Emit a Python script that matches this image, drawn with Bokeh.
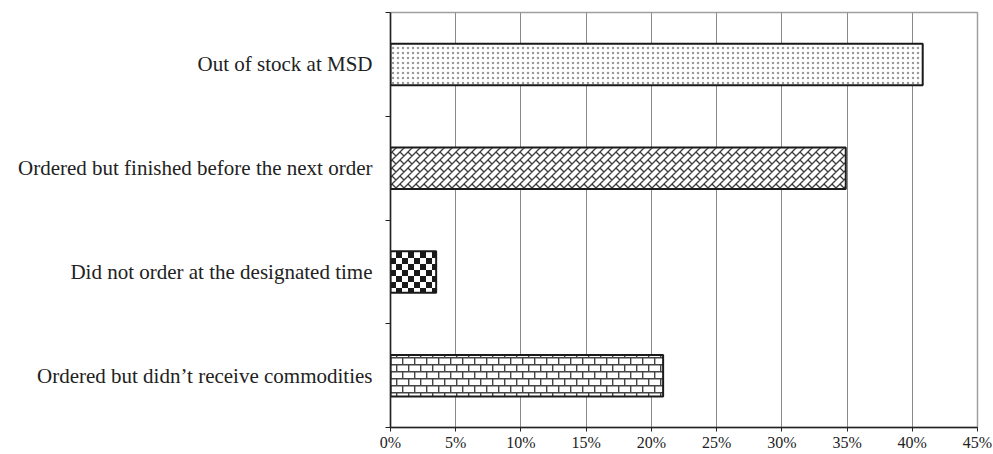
import base64
from bokeh.plotting import figure
from bokeh.models import ColumnDataSource, FixedTicker, ImageURLTexture, Range1d
from bokeh.embed import file_html
from bokeh.resources import INLINE

# ---- data ----
categories = [
    "Ordered but didn’t receive commodities",
    "Did not order at the designated time",
    "Ordered but finished before the next order",
    "Out of stock at MSD",
]
values = [20.9, 3.5, 34.9, 40.8]
patterns = ["brick", "checker", "weave", "."]
x_ticks = [0, 5, 10, 15, 20, 25, 30, 35, 40, 45]
x_tick_labels = ["0%", "5%", "10%", "15%", "20%", "25%", "30%", "35%", "40%", "45%"]


def svg_url(s):
    return "data:image/svg+xml;base64," + base64.b64encode(s.encode()).decode()


checker_svg = (
    "<svg xmlns='http://www.w3.org/2000/svg' width='12' height='12'>"
    "<rect width='12' height='12' fill='#ffffff'/>"
    "<rect width='6' height='6' fill='#1a1a1a'/>"
    "<rect x='6' y='6' width='6' height='6' fill='#1a1a1a'/>"
    "</svg>"
)
brick_svg = (
    "<svg xmlns='http://www.w3.org/2000/svg' width='12' height='14'>"
    "<rect width='12' height='14' fill='#ffffff'/>"
    "<path d='M0 0.7H12 M0 7.7H12 M0.7 0V7.7 M6.7 7.7V14' stroke='#444444' stroke-width='1.4' fill='none'/>"
    "</svg>"
)
weave_svg = (
    "<svg xmlns='http://www.w3.org/2000/svg' width='8' height='8'>"
    "<rect width='8' height='8' fill='#ffffff'/>"
    "<path d='M9 -1L-1 9 M-1 1L1 -1 M7 9L9 7 M0 0L4 4' stroke='#3a3a3a' stroke-width='1.3' fill='none'/>"
    "</svg>"
)

centers = [i + 0.5 for i in range(len(categories))]
bounds = list(range(len(categories) + 1))

src = ColumnDataSource(dict(
    y=centers,
    value=values,
    hatch=patterns,
))

p = figure(
    width=993, height=454,
    x_range=Range1d(0, 45), y_range=Range1d(0, len(categories)),
    output_backend="svg", toolbar_location=None,
    min_border_left=390, min_border_right=16, min_border_top=12, min_border_bottom=27,
)

p.hbar(
    y="y", right="value", left=0, height=0.4, source=src,
    fill_color="white", line_color="#1a1a1a", line_width=2,
    hatch_pattern="hatch", hatch_color="#9a9a9a", hatch_scale=5, hatch_weight=1.6,
    hatch_extra={
        "checker": ImageURLTexture(url=svg_url(checker_svg)),
        "brick": ImageURLTexture(url=svg_url(brick_svg)),
        "weave": ImageURLTexture(url=svg_url(weave_svg)),
    },
)

# x axis
p.xaxis.ticker = FixedTicker(ticks=x_ticks)
p.xaxis.major_label_overrides = {t: l for t, l in zip(x_ticks, x_tick_labels)}
p.xaxis.major_label_text_font = "Liberation Serif"
p.xaxis.major_label_text_font_size = "16px"
p.xaxis.major_label_text_color = "#222222"
p.xaxis.axis_line_color = "#222222"
p.xaxis.axis_line_width = 1.5
p.xaxis.major_tick_line_color = "#222222"
p.xaxis.major_tick_in = 0
p.xaxis.major_tick_out = 4
p.xaxis.minor_tick_line_color = None
p.xaxis.major_label_standoff = 2

# y axis
p.yaxis.ticker = FixedTicker(ticks=centers, minor_ticks=bounds)
p.yaxis.major_label_overrides = {c: l for c, l in zip(centers, categories)}
p.yaxis.major_label_text_font = "Liberation Serif"
p.yaxis.major_label_text_font_size = "21px"
p.yaxis.major_label_text_color = "#222222"
p.yaxis.major_tick_line_color = None
p.yaxis.major_tick_in = 0
p.yaxis.major_tick_out = 0
p.yaxis.minor_tick_line_color = "#222222"
p.yaxis.minor_tick_in = 0
p.yaxis.minor_tick_out = 5
p.yaxis.axis_line_color = "#222222"
p.yaxis.axis_line_width = 1.5
p.yaxis.major_label_standoff = 13

# grid
p.xgrid.ticker = FixedTicker(ticks=x_ticks)
p.xgrid.grid_line_color = "#8a8a8a"
p.xgrid.grid_line_width = 1
p.ygrid.grid_line_color = None

p.outline_line_color = "#a0a0a0"
p.outline_line_width = 1.5
p.background_fill_color = "white"
p.border_fill_color = "white"

open("out.html", "w").write(file_html(p, INLINE))
